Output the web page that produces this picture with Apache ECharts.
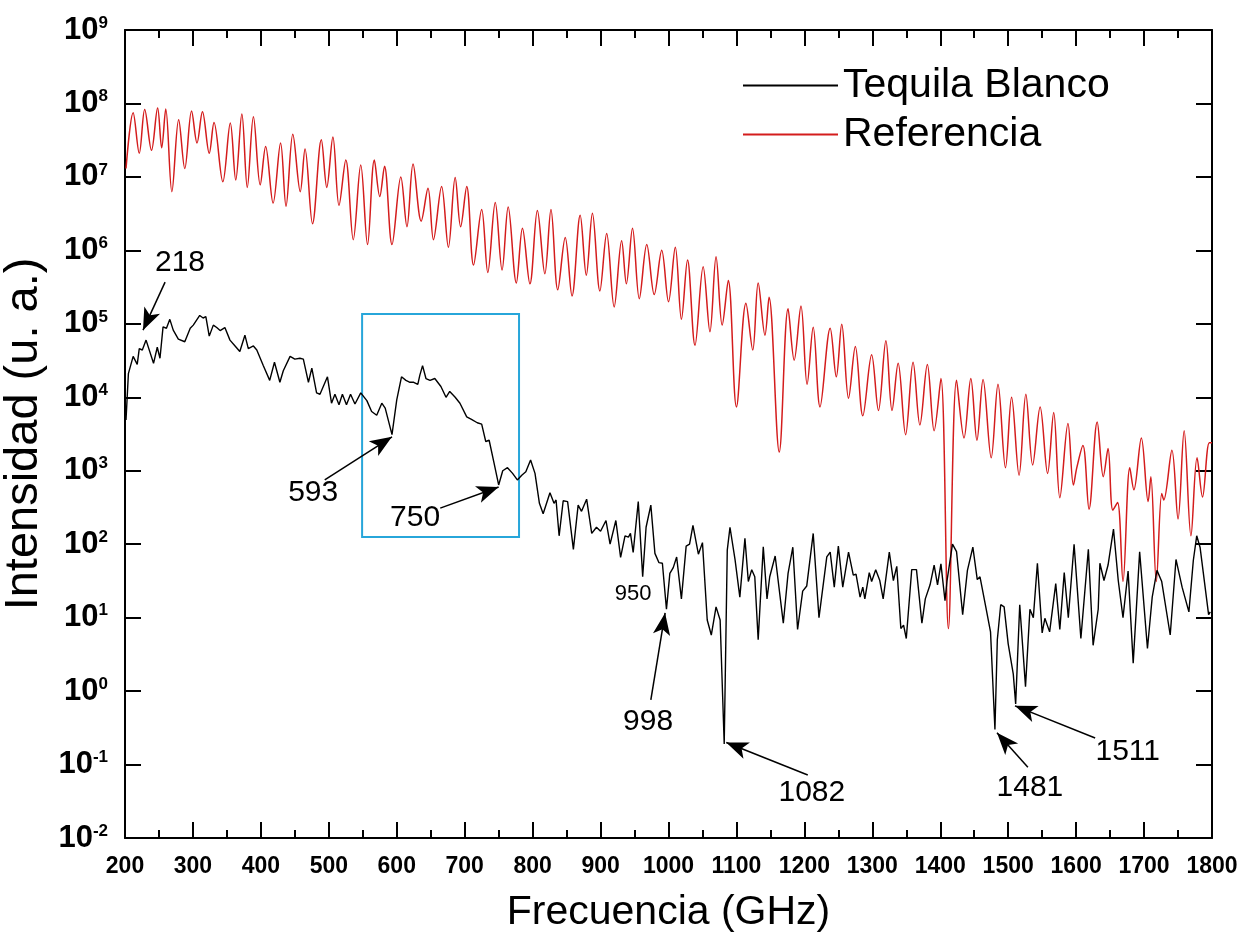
<!DOCTYPE html>
<html>
<head>
<meta charset="utf-8">
<script src="https://cdn.jsdelivr.net/npm/echarts@6/dist/echarts.min.js"></script>
<style>
  html, body { margin: 0; padding: 0; background: #fff; }
  #chart { width: 1242px; height: 942px; }
</style>
</head>
<body>
<div id="chart"></div>
<script>
// Reference spectrum (GHz, arbitrary units)
const refFreq = [201.5,212,221,229,239,248,254,260,269,279,
  288,298,306,314,324,331,344,355,363,372,
  380,389,399,407,418,429,437,447,458,465,
  476,489,497,506,515,525,536,547,557,567,
  575,582,593,606,615,624,636,646,654,666,
  676,686,694,703,713,725,734,745,755,764,
  776,785,796,807,818,827,837,848,858,870,
  879,888,899,909,920,931,938,947,957,968,
  979,990,1000,1010,1019,1028,1039,1051,1061,1070,
  1079,1088,1100,1114,1124,1132,1142,1148,1163,1176,
  1185,1195,1204,1213,1223,1238,1247,1255,1265,1275,
  1286,1299,1309,1320,1329,1338,1349,1360,1370,1381,
  1391,1401,1412,1424,1435,1445,1454,1463,1475,1485,
  1496,1505,1516,1526,1536,1547,1558,1567,1576,1588,
  1596,1601,1610,1619,1631,1640,1647,1654,1661,1669,
  1679,1685,1696,1706,1710,1718,1726,1729,1741,1750,
  1759,1769,1778,1786,1796,1800];
const refInt = [1.3e7,7.5e7,2.1e7,8.3e7,2.3e7,8.7e7,2.5e7,8.4e7,6.3e6,6.0e7,
  1.3e7,7.9e7,2.9e7,7.7e7,2.1e7,5.5e7,8.6e6,5.4e7,9.1e6,7.2e7,
  7.2e6,6.6e7,7.8e6,2.6e7,4.4e6,2.9e7,4.0e6,3.8e7,6.3e6,2.4e7,
  2.3e6,3.2e7,7.2e6,3.5e7,4.1e6,1.7e7,1.4e6,1.45e7,1.2e6,1.7e7,
  5.4e6,1.4e7,1.2e6,1.0e7,2.1e6,1.5e7,2.5e6,7.0e6,1.4e6,7.4e6,
  1.1e6,9.8e6,2.1e6,7.4e6,6.3e5,3.6e6,5.0e5,4.5e6,5.4e5,3.9e6,
  3.6e5,2.0e6,3.5e5,3.5e6,4.8e5,3.6e6,2.9e5,1.5e6,2.4e5,3.0e6,
  4.6e5,3.2e6,2.8e5,1.7e6,1.7e5,1.35e6,3.5e5,2.0e6,2.2e5,1.2e6,
  2.5e5,1.0e6,2.0e5,1.1e6,1.15e5,7.4e5,5.1e4,6.0e5,7.8e4,8.2e5,
  9.6e4,3.9e5,7.4e3,1.9e5,4.4e4,3.6e5,7.0e4,2.3e5,1.8e3,1.6e5,
  3.2e4,1.75e5,1.5e4,9.0e4,7.4e3,8.7e4,1.9e4,9.9e4,9.7e3,4.9e4,
  5.6e3,3.8e4,6.6e3,5.9e4,6.6e3,2.9e4,3.1e3,3.0e4,4.2e3,2.8e4,
  3.5e3,1.8e4,7.1,1.7e4,2.8e3,1.8e4,2.6e3,1.75e4,1.5e3,1.5e4,
  1.1e3,1.0e4,8.7e2,1.1e4,1.2e3,7.4e3,9.2e2,6.2e3,4.3e2,4.4e3,
  6.4e2,1.1e3,2.2e3,3.0e2,4.6e3,8.3e2,2.0e3,2.9e2,3.7e2,31,
  1.1e3,5.5e2,2.8e3,3.8e2,8.3e2,31,4.9e2,4.0e2,1.9e3,2.2e2,
  3.5e3,1.3e2,1.5e3,4.4e2,2.4e3,2.4e3];

// Tequila Blanco spectrum (GHz, arbitrary units)
const teqFreq = [201.5,205,212,218,221,225.5,231,242,247.5,251.5,
  256,261,266,271,278.5,288,296,300.5,310,315,
  319,324,330,335,340,347,354.5,362,369,376.5,
  381.5,389,394,403.5,413,420,428,433,443,450,
  457.5,462.5,470,475,482,487,498,504,509,515,
  520,526,532,538.5,547,556,563,570.5,578,583,
  593,600,607,613.5,619.5,625,631,634,638,643,
  649,656,665,672.5,678,686,693,703,710,718.5,
  725,731,736,743,750,756,763,770.5,777.5,784,
  790,797,803.5,810,815.5,825.5,831.5,834.5,839,845,
  851.5,860,867,872,879.5,887,894,900,908,914,
  922.5,929.5,936,941,944,948,955.5,962,967,974,
  980,986,991,997,1002,1007,1012,1019,1026,1031,
  1036,1044,1050,1057,1063,1070,1076,1082,1086.5,1090.5,
  1098,1105,1112.5,1117.5,1122.5,1127,1132,1139.5,1145,1149,
  1157,1169,1176,1183,1190,1197.5,1203.5,1213,1221.5,1233,
  1238,1244,1250,1256.5,1265,1272,1276,1282,1286,1289,
  1295.5,1299,1305,1311,1316,1325,1331,1336,1342,1346,
  1350,1358,1365,1373,1378,1385,1391,1396,1401,1407,
  1410,1418,1424,1433,1440,1448,1454.5,1458.5,1467,1474,
  1480.5,1484,1489,1494,1500,1507.5,1511,1517,1525.5,1532,
  1537,1543,1550,1554,1561,1570,1576,1582.5,1588.5,1597,
  1607,1618,1625,1632.5,1635,1641,1647,1655,1662,1669,
  1676.5,1684,1693.5,1705,1712,1719,1726,1738.5,1747,1756,
  1766,1772.5,1777.5,1782.5,1795,1797.5];
const teqInt = [4.9e3,2.1e4,3.6e4,2.8e4,4.6e4,4.4e4,6.0e4,2.9e4,4.8e4,3.4e4,
  9.1e4,8.7e4,1.15e5,8.2e4,6.2e4,5.7e4,8.7e4,9.6e4,1.3e5,1.2e5,
  1.25e5,6.8e4,9.6e4,8.9e4,8.1e4,8.9e4,6.0e4,5.0e4,4.2e4,7.0e4,
  4.6e4,5.0e4,4.4e4,2.7e4,1.7e4,3.0e4,1.6e4,2.3e4,3.6e4,3.3e4,
  3.4e4,3.3e4,1.6e4,2.5e4,1.15e4,1.1e4,1.9e4,8.3e3,1.1e4,7.9e3,
  1.1e4,7.9e3,1.1e4,8.1e3,1.15e4,9.0e3,6.4e3,5.7e3,8.3e3,7.1e3,
  3.1e3,9.2e3,1.9e4,1.7e4,1.6e4,1.6e4,1.5e4,2.0e4,2.7e4,1.8e4,
  1.7e4,1.8e4,1.4e4,1.0e4,1.2e4,1.0e4,8.3e3,5.4e3,5.0e3,4.5e3,
  4.3e3,2.5e3,2.6e3,1.3e3,6.4e2,1.0e3,1.1e3,9.2e2,7.5e2,8.7e2,
  9.7e2,1.4e3,9.2e2,3.6e2,2.6e2,5.0e2,3.6e2,4.0e2,1.3e2,3.9e2,
  3.8e2,85,3.4e2,2.8e2,4.1e2,1.4e2,1.7e2,1.5e2,2.1e2,1.0e2,
  2.1e2,66,1.3e2,1.25e2,1.4e2,77,3.8e2,36,1.7e2,3.4e2,
  75,56,55,13,40,48,67,18,94,1.0e2,
  1.8e2,73,1.05e2,9.3,5.8,14,9.3,0.19,83,1.7e2,
  61,19,1.2e2,31,45,36,5.0,92,18,36,
  69,8.4,40,91,6.9,23,27,1.4e2,10,67,
  78,26,94,26,78,38,39,19,26,18,
  41,31,45,32,18,78,32,50,7.1,7.9,
  5.2,45,45,8.4,18,28,52,28,54,17,
  32,1.0e2,79,11,44,91,33,36,14,6.4,
  0.30,5.0,15,14,4.4,1.7,0.67,15,1.15,13,
  10,55,6.2,9.8,6.4,29,6.9,41,10,1.0e2,
  5.2,85,4.2,13,55,32,52,1.6e2,32,10,
  43,2.4,79,3.8,19,44,31,5.8,62,26,
  12,60,1.3e2,90,11,12];

// Peak annotations: label anchor and arrow (tail -> head), in data units
const peakNotes = [
  { text: '218',  at: [281, 6.7e5],   from: [259, 3.7e5],   to: [226.5, 8.2e4] },
  { text: '593',  at: [477, 5.0e2],   from: [494, 7.5e2],   to: [593, 2.9e3] },
  { text: '750',  at: [627, 2.3e2],   from: [664, 3.1e2],   to: [750, 6.0e2] },
  { text: '950',  at: [948, 21],      small: true },
  { text: '998',  at: [970, 0.38],    from: [974, 0.76],    to: [995, 11.6] },
  { text: '1082', at: [1211, 0.041],  from: [1205, 0.072],  to: [1085, 0.20] },
  { text: '1481', at: [1532, 0.049],  from: [1529, 0.092],  to: [1483.5, 0.27] },
  { text: '1511', at: [1676, 0.148],  from: [1628, 0.23],   to: [1510, 0.63] }
];

// Highlighted frequency window
const boxCorners = [[549, 1.36e5], [780, 125]];

const FONT = '"Liberation Sans", Arial, sans-serif';
const refData = refFreq.map((f, i) => [f, refInt[i]]);
const teqData = teqFreq.map((f, i) => [f, teqInt[i]]);

const chart = echarts.init(document.getElementById('chart'), null, { renderer: 'canvas' });

const xCommon = {
  type: 'value', min: 200, max: 1800, interval: 100,
  axisLine: { show: true, onZero: false, lineStyle: { color: '#000', width: 2 } },
  axisTick: { show: true, inside: true, length: 16, lineStyle: { color: '#000', width: 2 } },
  minorTick: { show: true, splitNumber: 2, length: 8, lineStyle: { color: '#000', width: 2 } },
  splitLine: { show: false }
};
const yCommon = {
  type: 'log', logBase: 10, min: 0.01, max: 1e9, interval: 1,
  axisLine: { show: true, onZero: false, lineStyle: { color: '#000', width: 2 } },
  axisTick: { show: true, inside: true, length: 16, lineStyle: { color: '#000', width: 2 } },
  splitLine: { show: false }
};

const option = {
  animation: false,
  backgroundColor: '#fff',
  grid: { left: 125, right: 30, top: 30, bottom: 104, containLabel: false, outerBoundsMode: 'none' },
  legend: {
    data: ['Tequila Blanco', 'Referencia'],
    orient: 'vertical',
    left: 738, top: 60,
    icon: 'rect', itemWidth: 95, itemHeight: 2, itemGap: 8,
    textStyle: { fontFamily: FONT, fontSize: 41, color: '#000' }
  },
  xAxis: [
    Object.assign({}, xCommon, {
      position: 'bottom',
      name: 'Frecuencia (GHz)', nameLocation: 'middle', nameGap: 54,
      nameTextStyle: { fontFamily: FONT, fontSize: 41, color: '#000' },
      axisLabel: {
        show: true, margin: 17, color: '#000', fontFamily: FONT, fontWeight: 'bold', fontSize: 23,
        formatter: v => String(v)
      }
    }),
    Object.assign({}, xCommon, { position: 'top', axisLabel: { show: false } })
  ],
  yAxis: [
    Object.assign({}, yCommon, {
      position: 'left',
      name: 'Intensidad (u. a.)', nameLocation: 'middle', nameGap: 73,
      nameTextStyle: { fontFamily: FONT, fontSize: 47, color: '#000' },
      axisLabel: {
        show: true, margin: 17, color: '#000',
        formatter: v => '{b|10}{s|' + Math.round(Math.log10(v)) + '}',
        rich: {
          b: { fontFamily: FONT, fontWeight: 'bold', fontSize: 31, lineHeight: 31, color: '#000' },
          s: { fontFamily: FONT, fontWeight: 'bold', fontSize: 17, lineHeight: 17, verticalAlign: 'top', color: '#000' }
        }
      }
    }),
    Object.assign({}, yCommon, { position: 'right', axisLabel: { show: false } })
  ],
  series: [
    {
      name: 'Tequila Blanco', type: 'line', xAxisIndex: 0, yAxisIndex: 0,
      data: teqData, showSymbol: false, symbol: 'none',
      lineStyle: { color: '#000', width: 1.4 }, itemStyle: { color: '#000' },
      z: 3,
      markArea: {
        silent: true,
        itemStyle: { color: 'rgba(0,0,0,0)', borderColor: '#27a6da', borderWidth: 2 },
        label: { show: false },
        data: [[{ coord: boxCorners[0] }, { coord: boxCorners[1] }]]
      },
      markLine: {
        silent: true,
        symbol: ['none', 'arrow'], symbolSize: [13, 22],
        lineStyle: { color: '#000', width: 1.5, type: 'solid' },
        label: { show: false },
        data: peakNotes.filter(p => p.from).map(p => [{ coord: p.from }, { coord: p.to }])
      },
      markPoint: {
        silent: true,
        symbol: 'circle', symbolSize: 1,
        itemStyle: { color: 'rgba(0,0,0,0)' },
        data: peakNotes.map(p => ({
          name: p.text, coord: p.at,
          label: {
            show: true, position: 'inside', formatter: '{b}', color: '#000',
            fontFamily: FONT, fontSize: p.small ? 22 : 30
          }
        }))
      }
    },
    {
      name: 'Referencia', type: 'line', xAxisIndex: 0, yAxisIndex: 0,
      data: refData, showSymbol: false, symbol: 'none', smooth: 0.35,
      lineStyle: { color: '#d41c1c', width: 1.5 }, itemStyle: { color: '#d41c1c' },
      z: 2
    }
  ]
};

chart.setOption(option);
</script>
</body>
</html>
